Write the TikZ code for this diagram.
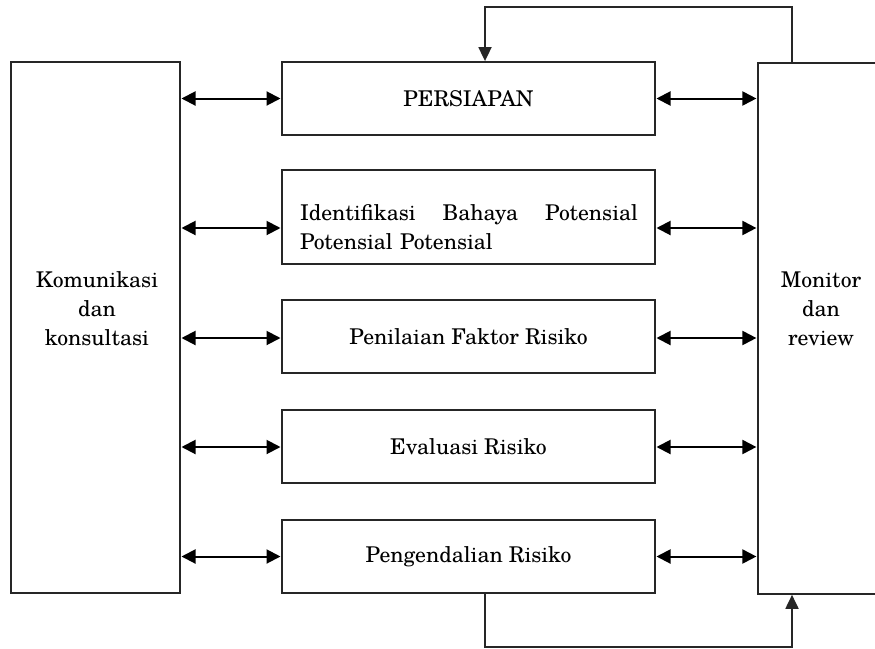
\documentclass[tikz,border=0pt]{standalone}
\usepackage{fontspec}
\setmainfont{TeX Gyre Schola}
\usetikzlibrary{arrows.meta}
\begin{document}
\begin{tikzpicture}[x=1pt,y=-1pt,
  box/.style={draw=black!85, line width=1.8pt, inner sep=0pt, fill=white},
  txt/.style={font=\fontsize{21.7}{29}\selectfont, align=center, inner sep=0pt},
  dbl/.style={line width=2pt, {Triangle[length=14pt,width=14pt]}-{Triangle[length=14pt,width=14pt]}, shorten <=0.6pt, shorten >=0.6pt},
  fb/.style={line width=1.8pt, draw=black!85, -{Triangle[length=14pt,width=13pt]}}]
\useasboundingbox (0,0) rectangle (875,648);
\node[box, minimum width=169pt, minimum height=531pt] (kom) at (95.5,327.5) {};
\node[box, minimum width=140pt, minimum height=531pt, anchor=north west] (mon) at (757,62) {};
\node[txt] (komt) at (97,309) {Komunikasi\\dan\\konsultasi};
\node[txt] (mont) at (821,309) {Monitor\\dan\\review};
\node[box, minimum width=373pt, minimum height=73pt, txt] (b1) at (468.5,98.5) {PERSIAPAN};
\node[box, minimum width=373pt, minimum height=94pt] (b2) at (468.5,217) {};
\node[txt, text width=338pt, align=left] (b2t) at (469,227) {\makebox[338pt][l]{Identifikasi\hfill Bahaya\hfill Potensial}\\Potensial Potensial};
\node[box, minimum width=373pt, minimum height=73pt, txt] (b3) at (468.5,336.5) {Penilaian Faktor Risiko};
\node[box, minimum width=373pt, minimum height=73pt, txt] (b4) at (468.5,446.5) {Evaluasi Risiko};
\node[box, minimum width=373pt, minimum height=73pt, txt] (b5) at (468.5,556.5) {Pengendalian Risiko};
\foreach \b/\s in {b1/0, b2/-11, b3/-1.5, b4/-0.5, b5/0}{
  \coordinate (w\b) at ([yshift=\s pt]\b.west);
  \coordinate (e\b) at ([yshift=\s pt]\b.east);
  \draw[dbl] (kom.east |- w\b) -- (w\b);
  \draw[dbl] (e\b) -- (mon.west |- e\b);
}
\draw[fb] ([xshift=35pt]mon.north west) -- ++(0,-55) -| ([xshift=16.5pt]b1.north);
\draw[fb] ([xshift=16.5pt]b5.south) -- ++(0,53) -| ([xshift=35pt]mon.south west);
\end{tikzpicture}
\end{document}
